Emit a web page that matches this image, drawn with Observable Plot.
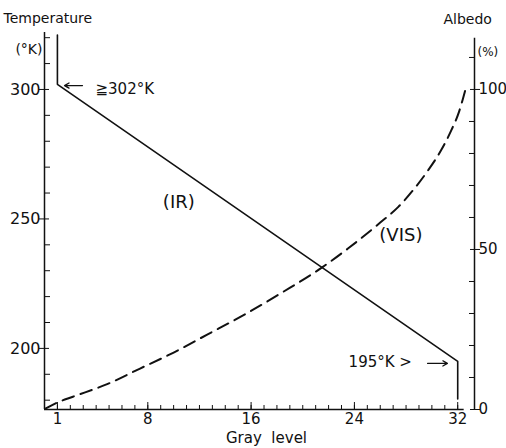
<!DOCTYPE html>
<html>
<head>
<meta charset="utf-8">
<script src="https://cdn.jsdelivr.net/npm/d3@7"></script>
<script src="https://cdn.jsdelivr.net/npm/@observablehq/plot@0.6"></script>
<style>
  body { margin: 0; background: #fff; }
  svg { font-family: "DejaVu Sans", sans-serif; }
</style>
</head>
<body>
<div id="chart"></div>
<script>
// ---- data ----
const grayDomain = [0, 33.3];
const tempDomain = [176.4, 322];
const albedoTop = 117.8;
const grayTicks = [1, 8, 16, 24, 32];
const grayMinor = d3.range(1, 33);
const tempTicks = [200, 250, 300];
const tempMinor = [180, 190, 210, 220, 230, 240, 260, 270, 280, 290, 310, 320];
const albedoTicks = [0, 50, 100];
const albedoMinor = [10, 20, 30, 40, 60, 70, 80, 90, 110];
const albedoAxisTop = 116;
const xAxisEnd = 32.5;

// IR: gray level -> temperature (K)
const irGray = [1, 1, 32, 32];
const irTemp = [321, 302, 195, 180.5];

// VIS: gray level -> albedo (%)
const visGray = [0.07, 1.0, 2.2, 4.9, 7.4, 10.0, 12.6, 15.2, 18.5, 21.5, 23.5, 26.0, 27.4, 28.6, 29.7, 30.7, 31.5, 32.1, 32.6];
const visAlbedo = [0.3, 2.2, 4.0, 8.0, 12.8, 17.8, 23.4, 29.0, 36.8, 44.4, 50.3, 58.4, 63.3, 68.8, 74.7, 80.9, 87.2, 93, 100];

// curve labels (data coordinates, centred)
const labelText = ["(IR)", "(VIS)"];
const labelGray = [10.4, 27.6];
const labelTemp = [256.3, 243.6];
// end-value notes (data coordinates, left-aligned)
const noteText = ["≧302°K", "195°K >"];
const noteGray = [3.95, 23.55];
const noteTemp = [300, 194.5];
const arrowGray1 = [2.94, 29.67];
const arrowGray2 = [1.55, 31.2];
const arrowTemp = [301.5, 194.2];

// ---- build ----
const toTemp = d3.scaleLinear().domain([0, albedoTop]).range(tempDomain);
const ir = irGray.map((g, i) => ({g, t: irTemp[i]}));
const vis = visGray.map((g, i) => ({g, t: toTemp(visAlbedo[i])}));
const labels = labelText.map((s, i) => ({s, g: labelGray[i], t: labelTemp[i]}));
const notes = noteText.map((s, i) => ({s, g: noteGray[i], t: noteTemp[i]}));
const arrows = arrowTemp.map((t, i) => ({g1: arrowGray1[i], g2: arrowGray2[i], t}));

const chart = Plot.plot({
  width: 506,
  height: 448,
  marginLeft: 44,
  marginRight: 32,
  marginTop: 32,
  marginBottom: 39,
  x: {domain: grayDomain},
  y: {domain: tempDomain},
  style: {fontFamily: "DejaVu Sans, sans-serif", color: "#111"},
  marks: [
    // axis lines
    Plot.ruleX([grayDomain[0]], {y1: tempDomain[0], y2: tempDomain[1], strokeWidth: 1.5}),
    Plot.ruleX([grayDomain[1]], {y1: tempDomain[0], y2: toTemp(albedoAxisTop), strokeWidth: 1.5}),
    Plot.ruleY([tempDomain[0]], {x1: grayDomain[0], x2: xAxisEnd, strokeWidth: 1.5}),
    // left axis
    Plot.axisY({anchor: "left", ticks: tempMinor, tickSize: 6, dx: 6, tickFormat: () => "", label: null}),
    Plot.axisY({anchor: "left", ticks: tempTicks, tickSize: 10, dx: 5, tickFormat: () => "", label: null}),
    Plot.axisY({anchor: "left", ticks: tempTicks, tickSize: 0, tickPadding: 4, fontSize: 16, letterSpacing: "0.5px", label: null}),
    // right axis
    Plot.axisY({anchor: "right", ticks: albedoMinor.map(toTemp), tickSize: 6, dx: -6, tickFormat: () => "", label: null}),
    Plot.axisY({anchor: "right", ticks: albedoTicks.map(toTemp), tickSize: 10, dx: -5, tickFormat: () => "", label: null}),
    Plot.axisY({anchor: "right", ticks: albedoTicks.map(toTemp), tickSize: 0, tickPadding: 4, fontSize: 15,
      tickFormat: t => String(Math.round(toTemp.invert(t))), label: null}),
    // bottom axis
    Plot.axisX({ticks: grayMinor, tickSize: 4, dy: -4, tickFormat: () => "", label: null}),
    Plot.axisX({ticks: grayTicks, tickSize: 7, dy: -7, tickFormat: () => "", label: null}),
    Plot.axisX({ticks: grayTicks, tickSize: 0, tickPadding: 4, fontSize: 15, label: null}),
    // titles
    Plot.text(["Temperature"], {frameAnchor: "top-left", dx: -41, dy: -19, lineAnchor: "top", textAnchor: "start", fontSize: 14}),
    Plot.text(["(°K)"], {frameAnchor: "top-left", dx: -2, dy: 17, lineAnchor: "middle", textAnchor: "end", fontSize: 14}),
    Plot.text(["Albedo"], {frameAnchor: "top-right", dx: -31, dy: -13, lineAnchor: "middle", textAnchor: "start", fontSize: 14, letterSpacing: "0.5px"}),
    Plot.text(["(%)"], {frameAnchor: "top-right", dx: 3, dy: 20, lineAnchor: "middle", textAnchor: "start", fontSize: 12}),
    Plot.text(["Gray  level"], {frameAnchor: "bottom", dx: 7, dy: 29, lineAnchor: "middle", fontSize: 15}),
    // curves
    Plot.line(ir, {x: "g", y: "t", strokeWidth: 1.6, stroke: "#111"}),
    Plot.line(vis, {x: "g", y: "t", strokeWidth: 2, stroke: "#111", strokeDasharray: "12,7", curve: "monotone-x"}),
    // annotations
    Plot.text(labels, {x: "g", y: "t", text: "s", textAnchor: "middle", fontSize: 18, letterSpacing: "3px", lineAnchor: "middle"}),
    Plot.text(notes, {x: "g", y: "t", text: "s", textAnchor: "start", fontSize: 15, letterSpacing: "0.5px", lineAnchor: "middle"}),
    Plot.arrow(arrows, {x1: "g1", x2: "g2", y1: "t", y2: "t", strokeWidth: 1.3, headLength: 6, stroke: "#111"})
  ]
});
document.getElementById("chart").appendChild(chart);
</script>
</body>
</html>
